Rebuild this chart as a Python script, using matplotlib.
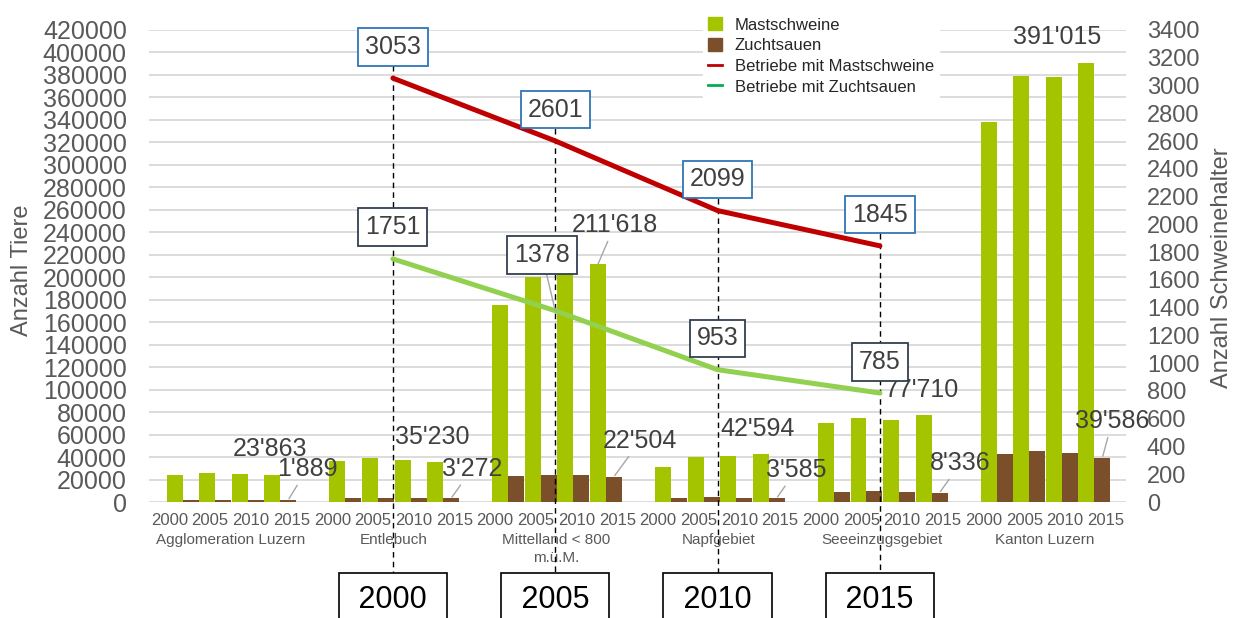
import numpy as np
import matplotlib
matplotlib.use('Agg')
import matplotlib.pyplot as plt
from matplotlib.lines import Line2D
from matplotlib.patches import Patch

plt.rcParams['font.family'] = ['Liberation Sans', 'DejaVu Sans']

# Daten
regionen = ['Agglomeration Luzern', 'Entlebuch', 'Mittelland < 800\nm.ü.M.',
            'Napfgebiet', 'Seeeinzugsgebiet', 'Kanton Luzern']
jahre = [2000, 2005, 2010, 2015]

mastschweine = [
    [24000, 25500, 25000, 23863],
    [36700, 39100, 37000, 35230],
    [175600, 200000, 203000, 211618],
    [31000, 39600, 41100, 42594],
    [70300, 75000, 72600, 77710],
    [338100, 378800, 378200, 391015],
]
zuchtsauen = [
    [2200, 2100, 1900, 1889],
    [3600, 3900, 3500, 3272],
    [22800, 24300, 24200, 22504],
    [3600, 4400, 3700, 3585],
    [9200, 9600, 8900, 8336],
    [43100, 45400, 43300, 39586],
]
betriebe_mast = [3053, 2601, 2099, 1845]
betriebe_zucht = [1751, 1378, 953, 785]

# Farben
GRUEN = '#A5C400'
BRAUN = '#7A4F2A'
ROT = '#C00000'
HELLGRUEN = '#92D050'
GRAU_TXT = '#595959'
DUNKEL_TXT = '#404040'

DPI = 100
fig = plt.figure(figsize=(12.37, 6.18), dpi=DPI)
ax = fig.add_axes([0.1205, 0.1877, 0.7898, 0.7638])

# Säulen: 5 Plätze pro Region (4 Jahre + Lücke)
bw = 0.49
for g in range(len(regionen)):
    pos = np.array([g * 5 + i + 1.03 for i in range(len(jahre))])
    ax.bar(pos - bw / 2, mastschweine[g], width=bw, color=GRUEN, zorder=2)
    ax.bar(pos + bw / 2, zuchtsauen[g], width=bw, color=BRAUN, zorder=2)

ax.set_xlim(0, 30)
ax.set_ylim(0, 420000)
ax.set_yticks(np.arange(0, 420001, 20000))
ax.tick_params(axis='y', length=0, pad=16, labelsize=18, labelcolor=GRAU_TXT)
ax.yaxis.grid(True, color='#D9D9D9', lw=1.3)
ax.set_axisbelow(True)
for s in ax.spines.values():
    s.set_visible(False)

n_kat = len(regionen) * len(jahre)
tick_pos = [(c + 0.5) * 30 / n_kat for c in range(n_kat)]
ax.set_xticks(tick_pos)
ax.set_xticklabels([str(j) for _ in regionen for j in jahre])
ax.tick_params(axis='x', length=0, pad=8, labelsize=12, labelcolor=GRAU_TXT)

for g, name in enumerate(regionen):
    ax.annotate(name, xy=((g * 4 + 2) * 30 / n_kat, 0), xycoords=('data', 'axes fraction'),
                xytext=(0, -22), textcoords='offset points', ha='center', va='top',
                fontsize=11, color=GRAU_TXT, linespacing=1.4, annotation_clip=False)

# Datenbeschriftungen 2015 (Versatz in Punkten)
mast_off = [(-1.5, 18.5), (-2, 18), (12, 28), (-2, 18), (-1.5, 18), (-21, 18.5)]
zucht_off = [(13.5, 22), (15, 21), (19, 26), (14, 20), (15, 21), (7, 26)]
for g in range(len(regionen)):
    x15 = g * 5 + 3 + 1.03
    m = mastschweine[g][-1]
    z = zuchtsauen[g][-1]
    arrow_m = dict(arrowstyle='-', color='#A6A6A6', lw=1, shrinkA=1, shrinkB=0) if g == 2 else None
    ax.annotate(f"{m:,}".replace(',', "'"), (x15 - bw / 2, m), xytext=mast_off[g],
                textcoords='offset points', ha='center', va='center', fontsize=18,
                color=DUNKEL_TXT, arrowprops=arrow_m, zorder=3)
    ax.annotate(f"{z:,}".replace(',', "'"), (x15 + bw / 2, z), xytext=zucht_off[g],
                textcoords='offset points', ha='center', va='center', fontsize=18,
                color=DUNKEL_TXT, zorder=3,
                arrowprops=dict(arrowstyle='-', color='#A6A6A6', lw=1, shrinkA=1, shrinkB=1))

# Sekundärachse: Betriebe
ax2 = ax.twinx()
ax2.set_ylim(0, 3400)
ax2.set_yticks(np.arange(0, 3401, 200))
ax2.tick_params(axis='y', length=0, pad=15, labelsize=17, labelcolor=GRAU_TXT)
for s in ax2.spines.values():
    s.set_visible(False)

ax3 = ax2.twiny()
ax3.set_xlim(1992.49, 2022.58)
ax3.set_xticks([])
for s in ax3.spines.values():
    s.set_visible(False)

ax3.plot(jahre, betriebe_mast, color=ROT, lw=3.6, solid_capstyle='round', zorder=4)
ax3.plot(jahre, betriebe_zucht, color=HELLGRUEN, lw=3.6, solid_capstyle='round', zorder=4)

for yr, v in zip(jahre, betriebe_mast):
    ax3.plot([yr, yr], [v + 230, -530], color='black', lw=1, ls=(0, (4, 3)),
             clip_on=False, zorder=3)

for yr, v in zip(jahre, betriebe_mast):
    ax3.annotate(str(v), (yr, v), xytext=(0, 22.5), textcoords='offset points',
                 ha='center', va='center', fontsize=18, color=DUNKEL_TXT, zorder=6,
                 bbox=dict(boxstyle='square,pad=0.27', fc='white', ec='#2E75B6', lw=1.3))

zucht_box_off = [(0, 23), (-9.5, 40), (0, 22.5), (0, 22.5)]
for yr, v, off in zip(jahre, betriebe_zucht, zucht_box_off):
    arr = dict(arrowstyle='-', color='#A6A6A6', lw=1, shrinkA=0, shrinkB=0) if off[1] > 30 else None
    ax3.annotate(str(v), (yr, v), xytext=off, textcoords='offset points',
                 ha='center', va='center', fontsize=18, color=DUNKEL_TXT, zorder=6,
                 arrowprops=arr,
                 bbox=dict(boxstyle='square,pad=0.27', fc='white', ec='#333F50', lw=1.3))

# Jahreskästchen unten
for yr in jahre:
    ax3.annotate(f' {yr} ', xy=(yr, 0), xycoords=('data', 'axes fraction'),
                 xytext=(0, -70.5), textcoords='offset points', ha='center', va='center',
                 fontsize=22, color='black', annotation_clip=False, zorder=6,
                 bbox=dict(boxstyle='square,pad=0.38', fc='white', ec='black', lw=1.2))

# Achsentitel
fig.text(22 / 1237, 1 - 270 / 618, 'Anzahl Tiere', rotation=90, ha='center', va='center',
         fontsize=17, color=GRAU_TXT)
fig.text(1222 / 1237, 1 - 268 / 618, 'Anzahl Schweinehalter', rotation=90, ha='center',
         va='center', fontsize=17, color=GRAU_TXT)

# Legende
handles = [Patch(color=GRUEN), Patch(color=BRAUN),
           Line2D([], [], color=ROT, lw=2), Line2D([], [], color='#00B050', lw=2)]
labels = ['Mastschweine', 'Zuchtsauen', 'Betriebe mit Mastschweine', 'Betriebe mit Zuchtsauen']
fig.legend(handles, labels, loc='upper left', bbox_to_anchor=(695 / 1237, 1 - 4 / 618),
           fontsize=12, handlelength=0.8, handleheight=0.8, handletextpad=0.8,
           labelspacing=0.33, frameon=True, facecolor='white', edgecolor='white',
           framealpha=1, fancybox=False, borderpad=0.3, labelcolor='#262626')

fig.savefig('out.png', dpi=DPI)
